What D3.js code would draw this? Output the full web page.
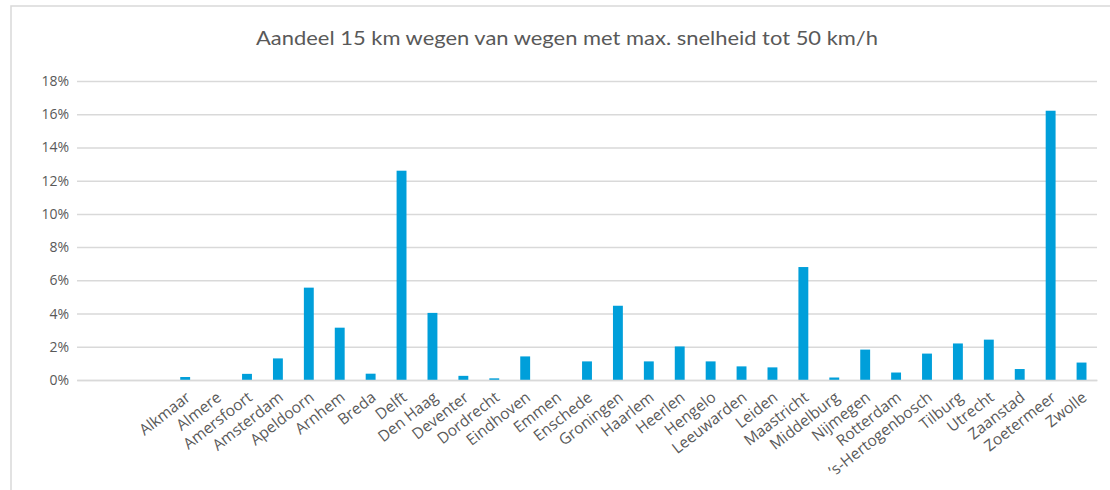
<!DOCTYPE html>
<html>
<head>
<meta charset="utf-8">
<script src="https://cdn.jsdelivr.net/npm/d3@7"></script>
<style>
  body { margin: 0; background: #fff; }
  svg { display: block; }
</style>
</head>
<body>
<svg width="1110" height="490"></svg>
<script>
var svg = d3.select('svg');
var width = +svg.attr('width');
var height = +svg.attr('height');

// three empty slots come first on the axis
var cities = ['', '', '', 'Alkmaar', 'Almere', 'Amersfoort', 'Amsterdam', 'Apeldoorn', 'Arnhem',
  'Breda', 'Delft', 'Den Haag', 'Deventer', 'Dordrecht', 'Eindhoven', 'Emmen', 'Enschede',
  'Groningen', 'Haarlem', 'Heerlen', 'Hengelo', 'Leeuwarden', 'Leiden', 'Maastricht',
  'Middelburg', 'Nijmegen', 'Rotterdam', '\u2019s-Hertogenbosch', 'Tilburg', 'Utrecht',
  'Zaanstad', 'Zoetermeer', 'Zwolle'];
var shares = [null, null, null, 0.0018, 0, 0.0037, 0.013, 0.0556, 0.0315,
  0.0038, 0.126, 0.0404, 0.0025, 0.001, 0.0142, 0, 0.0112,
  0.0447, 0.0112, 0.0202, 0.0112, 0.0082, 0.0076, 0.068,
  0.0015, 0.0183, 0.0045, 0.0159, 0.022, 0.0243,
  0.0066, 0.1621, 0.0105];
var yTicks = [0, 0.02, 0.04, 0.06, 0.08, 0.10, 0.12, 0.14, 0.16, 0.18];

var margin = {top: 81, right: 13, bottom: 110, left: 77};

var x = d3.scaleBand()
  .domain(d3.range(cities.length))
  .range([margin.left, width - margin.right])
  .paddingInner(0.68)
  .paddingOuter(0.34);

var y = d3.scaleLinear()
  .domain([0, 0.18])
  .range([380, margin.top]);

// chart frame (only top and left edges show)
svg.append('path')
  .attr('d', 'M11,490V6H1110')
  .attr('fill', 'none')
  .attr('stroke', '#d9d9d9')
  .attr('stroke-width', 1.5);

svg.append('text')
  .attr('x', 567)
  .attr('y', 45)
  .attr('text-anchor', 'middle')
  .attr('font-family', 'Lato')
  .attr('font-size', 19)
  .attr('fill', '#595959')
  .attr('textLength', 622)
  .attr('lengthAdjust', 'spacingAndGlyphs')
  .text('Aandeel 15 km wegen van wegen met max. snelheid tot 50 km/h');

// gridlines and y labels
var yAxis = svg.append('g')
  .attr('transform', 'translate(' + margin.left + ',0)')
  .call(d3.axisLeft(y)
    .tickValues(yTicks)
    .tickSize(-(width - margin.right - margin.left))
    .tickPadding(8)
    .tickFormat(d3.format('.0%')));
yAxis.select('.domain').remove();
yAxis.selectAll('.tick line')
  .attr('stroke', '#d9d9d9')
  .attr('stroke-width', 1.5);
yAxis.selectAll('.tick text')
  .attr('font-family', 'Open Sans')
  .attr('font-size', 14)
  .attr('fill', '#595959');

svg.append('g')
  .selectAll('rect')
  .data(shares)
  .enter()
  .filter(function(d) { return d !== null; })
  .append('rect')
  .attr('x', function(d, i) { return x(i + 3); })
  .attr('width', x.bandwidth())
  .attr('y', function(d) { return y(d); })
  .attr('height', function(d) { return y(0) - y(d); })
  .attr('fill', '#009fda');

// x axis with rotated city names
var xAxis = svg.append('g')
  .attr('transform', 'translate(0,' + y(0) + ')')
  .call(d3.axisBottom(x)
    .tickSize(0)
    .tickFormat(function(i) { return cities[i]; }));
xAxis.select('.domain')
  .attr('stroke', '#d9d9d9')
  .attr('stroke-width', 1.5);
xAxis.selectAll('.tick text')
  .attr('font-family', 'Open Sans')
  .attr('font-size', 15.5)
  .attr('fill', '#595959')
  .attr('text-anchor', 'end')
  .attr('dy', '0.35em')
  .attr('y', 0)
  .attr('transform', 'translate(3,15) rotate(-38)');
</script>
</body>
</html>
